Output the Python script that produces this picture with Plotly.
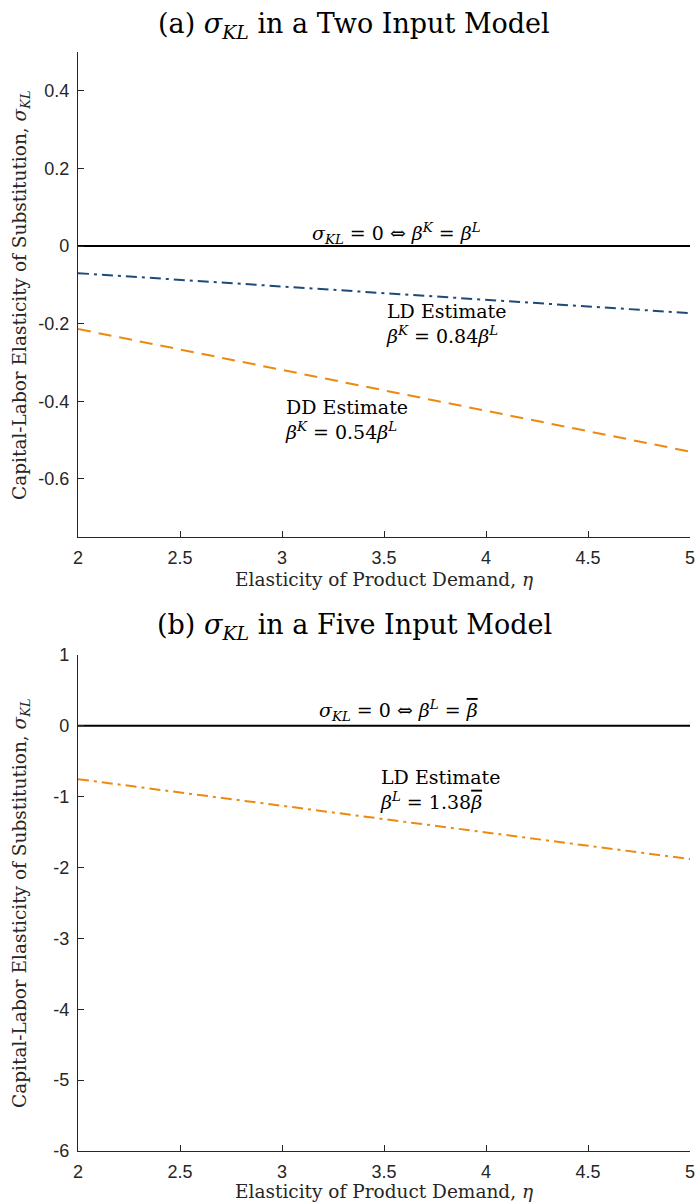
import plotly.graph_objects as go
from plotly.subplots import make_subplots

# Elasticity of product demand (x-axis)
eta = [2, 3, 4, 5]

# Panel (a): two input model
sigma_ld_two = [-0.070, -0.104, -0.139, -0.173]
sigma_dd_two = [-0.214, -0.319, -0.425, -0.530]

# Panel (b): five input model
sigma_ld_five = [-0.752, -1.128, -1.504, -1.880]

zero_line = [0, 0, 0, 0]

x_ticks = [2, 2.5, 3, 3.5, 4, 4.5, 5]
y_ticks_a = [-0.6, -0.4, -0.2, 0, 0.2, 0.4]
y_ticks_b = [-6, -5, -4, -3, -2, -1, 0, 1]

NAVY = "#1d4a78"
ORANGE = "#ec8a10"
AXIS = "#262626"
SERIF = "DejaVu Serif, Liberation Serif, serif"
SANS = "Liberation Sans, Arial, sans-serif"

W, H = 695, 1203
ML, MR, MT, MB = 78, 5, 52, 52
PW, PH = W - ML - MR, H - MT - MB

fig = make_subplots(rows=2, cols=1)

# Panel (a)
fig.add_trace(go.Scatter(x=eta, y=zero_line, mode="lines",
                         line=dict(color="black", width=2)), row=1, col=1)
fig.add_trace(go.Scatter(x=eta, y=sigma_ld_two, mode="lines",
                         line=dict(color=NAVY, width=2, dash="11px,5px,3px,5px")),
              row=1, col=1)
fig.add_trace(go.Scatter(x=eta, y=sigma_dd_two, mode="lines",
                         line=dict(color=ORANGE, width=2, dash="13px,8px")),
              row=1, col=1)

# Panel (b)
fig.add_trace(go.Scatter(x=eta, y=zero_line, mode="lines",
                         line=dict(color="black", width=2)), row=2, col=1)
fig.add_trace(go.Scatter(x=eta, y=sigma_ld_five, mode="lines",
                         line=dict(color=ORANGE, width=2, dash="11px,5px,3px,5px")),
              row=2, col=1)


def fx(px):
    """Pixel column -> paper x."""
    return (px - ML) / PW


def fy(py):
    """Pixel row -> paper y."""
    return (H - MB - py) / PH


axis_common = dict(
    showline=True, linecolor=AXIS, linewidth=1.2,
    ticks="inside", ticklen=6, tickcolor=AXIS, tickwidth=1.2,
    showgrid=False, zeroline=False, automargin=False,
    tickfont=dict(family=SANS, size=18, color=AXIS),
    ticklabelstandoff=4, ticklabeloverflow="allow",
)

fig.update_xaxes(range=[2, 5], tickvals=x_ticks,
                 ticktext=[f"{t:g}" for t in x_ticks],
                 domain=[0, 1], **axis_common)

fig.update_yaxes(row=1, col=1, range=[-0.75, 0.5], tickvals=y_ticks_a,
                 ticktext=[f"{t:g}" for t in y_ticks_a],
                 domain=[fy(537), fy(52)], **axis_common)
fig.update_yaxes(row=2, col=1, range=[-6, 1], tickvals=y_ticks_b,
                 ticktext=[f"{t:g}" for t in y_ticks_b],
                 domain=[fy(1151), fy(655)], **axis_common)

ann_font = dict(family=SERIF, size=19, color="black")
title_font = dict(family=SERIF, size=27, color="black")
axt_font = dict(family=SERIF, size=18.5, color=AXIS)

X_TITLE = "Elasticity of Product Demand, <i>η</i>"
Y_TITLE = "Capital-Labor Elasticity of Substitution, <i>σ<sub>KL</sub></i>"
BETA_BAR = '<span style="text-decoration:overline"><i>β</i></span>'


def note(text, x, y, font, xanchor="left", **kw):
    return dict(text=text, x=fx(x), y=fy(y), xref="paper", yref="paper",
                showarrow=False, font=font, xanchor=xanchor, yanchor="middle",
                align="left", **kw)


annotations = [
    # panel titles
    note("(a) <i>σ<sub>KL</sub></i> in a Two Input Model", 354, 26, title_font, "center"),
    note("(b) <i>σ<sub>KL</sub></i> in a Five Input Model", 354, 627, title_font, "center"),
    # axis titles
    note(X_TITLE, 384, 579, axt_font, "center"),
    note(X_TITLE, 384, 1191, axt_font, "center"),
    note(Y_TITLE, 21, 295, axt_font, "center", textangle=-90),
    note(Y_TITLE, 21, 903, axt_font, "center", textangle=-90),
    # panel (a) labels
    note("<i>σ<sub>KL</sub></i> = 0 ⇔ <i>β<sup>K</sup></i> = <i>β<sup>L</sup></i>",
         396, 234, ann_font, "center"),
    note("LD Estimate<br><i>β<sup>K</sup></i> = 0.84<i>β<sup>L</sup></i>",
         384, 323, ann_font),
    note("DD Estimate<br><i>β<sup>K</sup></i> = 0.54<i>β<sup>L</sup></i>",
         283, 420, ann_font),
    # panel (b) labels
    note("<i>σ<sub>KL</sub></i> = 0 ⇔ <i>β<sup>L</sup></i> = " + BETA_BAR,
         398, 711, ann_font, "center"),
    note("LD Estimate<br><i>β<sup>L</sup></i> = 1.38" + BETA_BAR,
         378, 789, ann_font),
]

fig.update_layout(
    width=W, height=H,
    margin=dict(l=ML, r=MR, t=MT, b=MB),
    paper_bgcolor="white", plot_bgcolor="white",
    showlegend=False,
    annotations=annotations,
)

fig.write_html("out.html")
